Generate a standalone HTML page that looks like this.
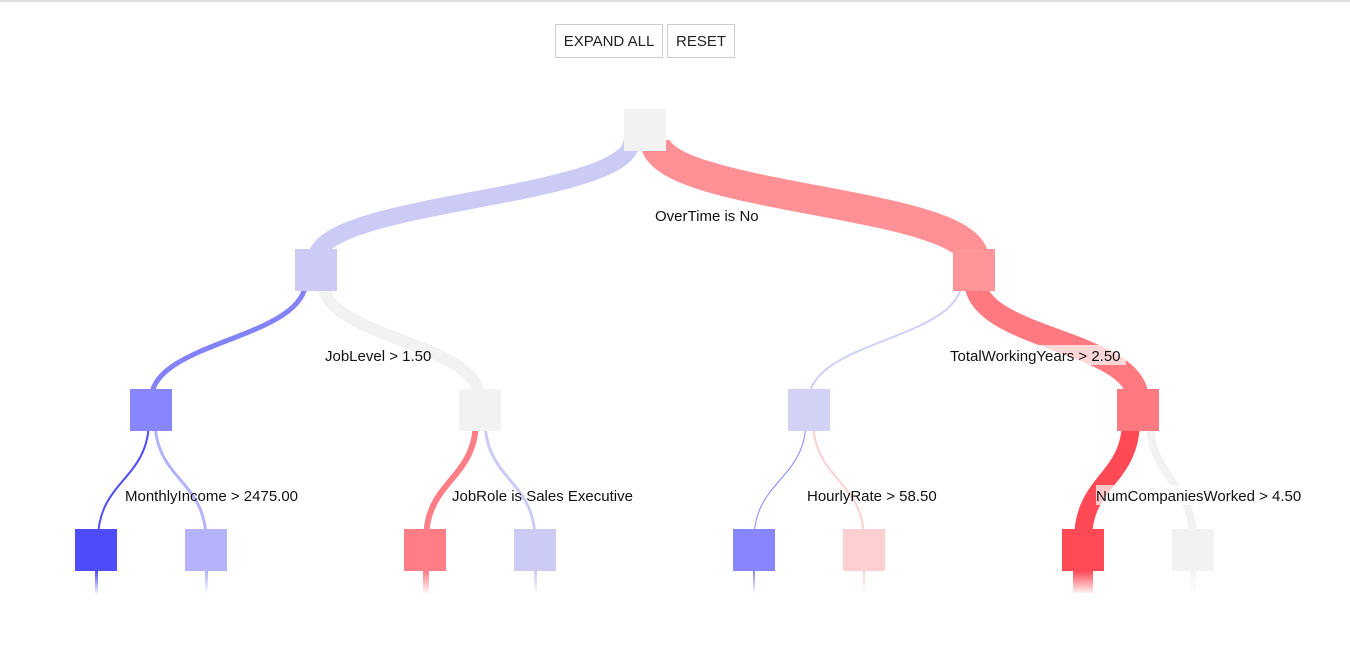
<!DOCTYPE html>
<html><head><meta charset="utf-8"><style>
html,body{margin:0;padding:0;background:#fff;width:1350px;height:648px;overflow:hidden;font-family:"Liberation Sans",sans-serif}
.top{position:absolute;left:0;top:0;width:1350px;height:2px;background:#ddd}
.btn{position:absolute;top:24px;height:34px;border:1px solid #ccc;background:#fff;font-size:15px;color:#222;line-height:34px;text-align:center;box-sizing:border-box}
</style></head><body>
<div class="top"></div>
<div class="btn" style="left:555px;width:108px">EXPAND ALL</div>
<div class="btn" style="left:667px;width:68px">RESET</div>
<svg width="1350" height="648" style="position:absolute;left:0;top:0" font-family="Liberation Sans, sans-serif" font-size="15">
<defs>
<linearGradient id="f" x1="0" y1="0" x2="0" y2="1"><stop offset="0" stop-color="#fff" stop-opacity="0"/><stop offset="1" stop-color="#fff" stop-opacity="1"/></linearGradient>
</defs>
<g fill="none">
<path d="M632,140 C632,200 316,200 316,260" stroke="#cccbf6" stroke-width="17"/>
<path d="M655,140 C655,200 974,200 974,260" stroke="#ff9095" stroke-width="30"/>
<path d="M306,280 C306,340 151,340 151,400" stroke="#8482f7" stroke-width="5"/>
<path d="M322,280 C322,340 480,340 480,400" stroke="#f2f2f2" stroke-width="12"/>
<path d="M962,280 C962,340 809,340 809,400" stroke="#d0cff5" stroke-width="2"/>
<path d="M975,280 C975,340 1138,340 1138,400" stroke="#ff7a80" stroke-width="22"/>
<path d="M149,420 C149,480 98,480 98,540" stroke="#4e4bfb" stroke-width="2"/>
<path d="M155,420 C155,480 206,480 206,540" stroke="#b3b2fa" stroke-width="3"/>
<path d="M476,420 C476,480 426,480 426,540" stroke="#ff7e86" stroke-width="6"/>
<path d="M485,420 C485,480 535,480 535,540" stroke="#cccbf6" stroke-width="3"/>
<path d="M806,420 C806,480 754,480 754,540" stroke="#8886fc" stroke-width="1"/>
<path d="M813,420 C813,480 864,480 864,540" stroke="#fdcfd1" stroke-width="2"/>
<path d="M1131,420 C1131,480 1083,480 1083,540" stroke="#ff4a55" stroke-width="18"/>
<path d="M1150,420 C1150,480 1193,480 1193,540" stroke="#f2f2f2" stroke-width="8"/>
</g>
<g>
<rect x="95" y="571" width="3" height="22" fill="#4e4bfb"/>
<rect x="205" y="571" width="3" height="22" fill="#b3b2fa"/>
<rect x="423" y="571" width="6" height="22" fill="#ff7e86"/>
<rect x="534" y="571" width="3" height="22" fill="#cccbf6"/>
<rect x="753" y="571" width="2" height="22" fill="#8886fc"/>
<rect x="863" y="571" width="2" height="22" fill="#fdcfd1"/>
<rect x="1073" y="571" width="20" height="22" fill="#ff4a55"/>
<rect x="1190" y="571" width="6" height="22" fill="#f2f2f2"/>
<rect x="60" y="571" width="1200" height="24" fill="url(#f)"/>
</g>
<rect x="624" y="109" width="42" height="42" fill="#f2f2f2"/>
<rect x="295" y="249" width="42" height="42" fill="#cccbf6"/>
<rect x="953" y="249" width="42" height="42" fill="#ff9599"/>
<rect x="130" y="389" width="42" height="42" fill="#8886fc"/>
<rect x="459" y="389" width="42" height="42" fill="#f2f2f2"/>
<rect x="788" y="389" width="42" height="42" fill="#d2d1f6"/>
<rect x="1117" y="389" width="42" height="42" fill="#ff7a80"/>
<rect x="75" y="529" width="42" height="42" fill="#4e4bfb"/>
<rect x="185" y="529" width="42" height="42" fill="#b3b2fa"/>
<rect x="404" y="529" width="42" height="42" fill="#ff7e86"/>
<rect x="514" y="529" width="42" height="42" fill="#cccbf6"/>
<rect x="733" y="529" width="42" height="42" fill="#8886fc"/>
<rect x="843" y="529" width="42" height="42" fill="#fdcfd1"/>
<rect x="1062" y="529" width="42" height="42" fill="#ff4a55"/>
<rect x="1172" y="529" width="42" height="42" fill="#f2f2f2"/>
<g fill="#111">
<rect x="1096" y="485" width="208" height="20" fill="#fff" fill-opacity="0.7"/>
<rect x="949" y="345" width="177" height="20" fill="#fff" fill-opacity="0.7"/>
<text x="655" y="221">OverTime is No</text>
<text x="325" y="361">JobLevel &gt; 1.50</text>
<text x="950" y="361">TotalWorkingYears &gt; 2.50</text>
<text x="125" y="501">MonthlyIncome &gt; 2475.00</text>
<text x="452" y="501">JobRole is Sales Executive</text>
<text x="807" y="501">HourlyRate &gt; 58.50</text>
<svg x="0" y="0" width="1302" height="648" overflow="hidden"><text x="1096" y="501" fill="#111" font-family="Liberation Sans, sans-serif" font-size="15">NumCompaniesWorked &gt; 4.50</text></svg>
</g>
</svg>
</body></html>
